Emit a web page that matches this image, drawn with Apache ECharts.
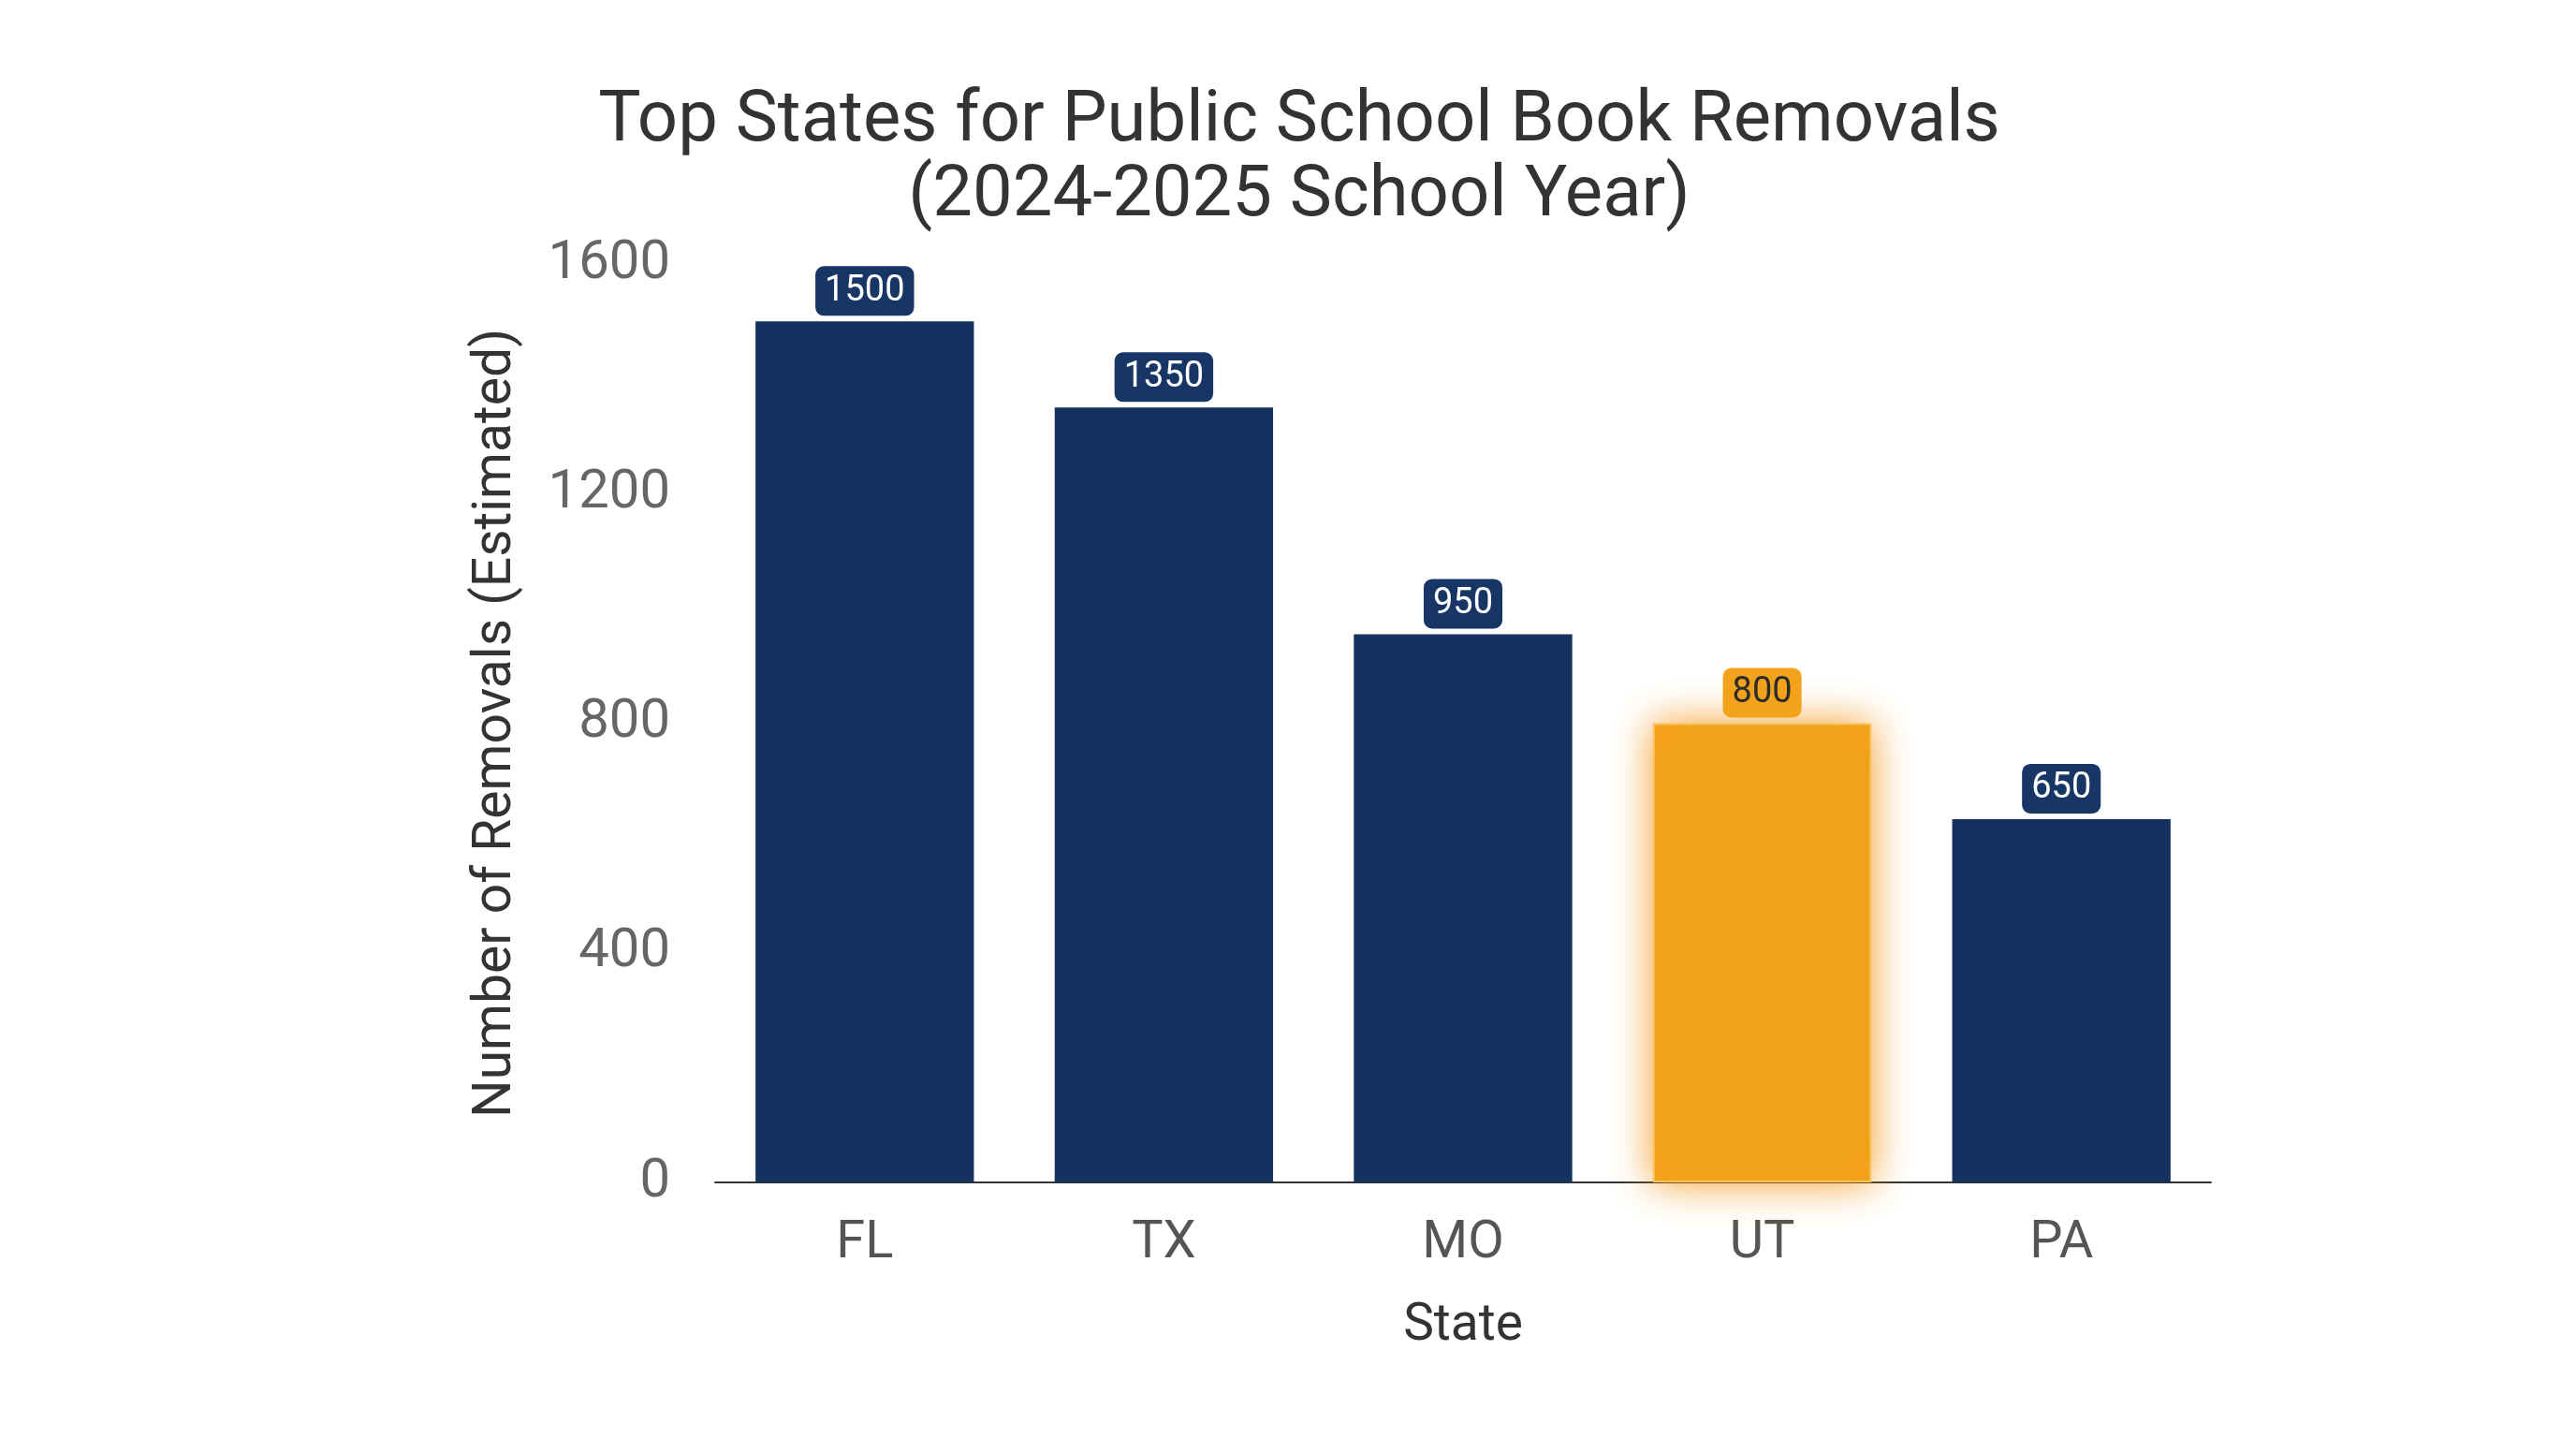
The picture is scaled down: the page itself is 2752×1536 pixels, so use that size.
<!DOCTYPE html>
<html>
<head>
<meta charset="utf-8">
<script src="https://cdn.jsdelivr.net/npm/echarts@6/dist/echarts.min.js"></script>
<style>
html,body{margin:0;padding:0;background:#ffffff;}
#chart{width:2752px;height:1536px;}
</style>
</head>
<body>
<div id="chart"></div>
<script>
const titleText = 'Top States for Public School Book Removals\n(2024-2025 School Year)';
const states = ['FL', 'TX', 'MO', 'UT', 'PA'];
const removals = [1500, 1350, 955, 800, 633];
const labelTexts = ['1500', '1350', '950', '800', '650'];
const highlightState = 'UT';
const yTicks = [0, 400, 800, 1200, 1600];
const xAxisName = 'State';
const yAxisName = 'Number of Removals (Estimated)';

const navy = '#15315f';
const orange = '#f2a31b';

const data = removals.map((v, i) => {
  const hi = states[i] === highlightState;
  return {
    value: v,
    itemStyle: hi ? {
      color: orange,
      borderColor: '#f8c25a',
      borderWidth: 2,
      shadowColor: 'rgba(242,145,15,0.9)',
      shadowBlur: 40
    } : { color: navy },
    label: hi ? {
      backgroundColor: '#f2a31b',
      color: '#2b2b2b'
    } : {
      backgroundColor: '#173666',
      color: '#ffffff'
    }
  };
});

const chart = echarts.init(document.getElementById('chart'), null, { renderer: 'canvas' });
chart.setOption({
  backgroundColor: '#ffffff',
  animation: false,
  textStyle: { fontFamily: 'Roboto' },
  title: {
    text: titleText,
    left: 1388,
    top: 91,
    textAlign: 'center',
    padding: 0,
    textStyle: {
      fontFamily: 'Roboto',
      fontSize: 76,
      fontWeight: 'normal',
      color: '#333333',
      lineHeight: 80
    }
  },
  grid: { left: 764, right: 390, top: 282, bottom: 273, containLabel: false },
  xAxis: {
    type: 'category',
    data: states,
    name: xAxisName,
    nameLocation: 'middle',
    nameGap: 127,
    nameTextStyle: { fontFamily: 'Roboto', fontSize: 55, color: '#333333' },
    axisLine: { show: true, lineStyle: { color: '#333333', width: 2 } },
    axisTick: { show: false },
    axisLabel: { fontFamily: 'Roboto', fontSize: 56, color: '#555555', margin: 38 }
  },
  yAxis: {
    type: 'value',
    min: 0,
    max: yTicks[yTicks.length - 1],
    interval: 400,
    name: yAxisName,
    nameLocation: 'middle',
    nameGap: 205,
    nameTextStyle: { fontFamily: 'Roboto', fontSize: 57, color: '#333333' },
    axisLine: { show: false },
    axisTick: { show: false },
    splitLine: { show: false },
    axisLabel: {
      fontFamily: 'Roboto', fontSize: 58, color: '#666666', margin: 48,
      formatter: v => String(v)
    }
  },
  series: [{
    type: 'bar',
    data: data,
    barCategoryGap: '27%',
    label: {
      show: true,
      position: 'top',
      distance: 6,
      fontFamily: 'Roboto',
      fontSize: 38,
      padding: [8, 10, 7, 10],
      borderRadius: 9,
      formatter: p => labelTexts[p.dataIndex]
    }
  }]
});
</script>
</body>
</html>
